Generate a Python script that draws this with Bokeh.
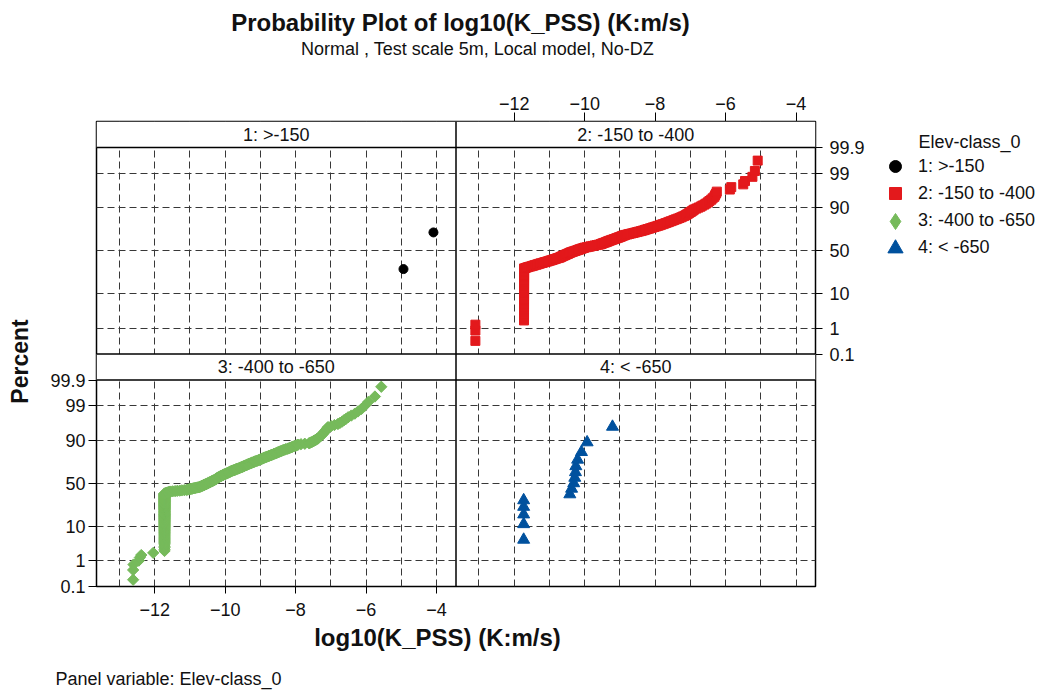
from statistics import NormalDist

from bokeh.embed import file_html
from bokeh.layouts import column, row
from bokeh.models import (BoxAnnotation, ColumnDataSource, FixedTicker, Grid, Label,
                          Legend, LegendItem, LinearAxis, Range1d, Span)
from bokeh.plotting import figure
from bokeh.resources import INLINE

# ---------------------------------------------------------------------------
# Data: log10(K_PSS) samples per elevation class (values at -11.72 / -11.73
# are the lower measurement limit and repeat)
# ---------------------------------------------------------------------------
class_labels = ["1: >-150", "2: -150 to -400", "3: -400 to -650", "4: < -650"]

elev1_k = [-4.94, -4.09]

elev2_k = ([-13.1, -13.1, -13.1] + [-11.72] * 57 + [
    -11.68, -11.64, -11.60, -11.55, -11.50, -11.46, -11.42, -11.37,
    -11.33, -11.29, -11.25, -11.20, -11.16, -11.12, -11.07,
    -11.03, -10.99, -10.95, -10.91, -10.87, -10.84, -10.80, -10.76, -10.72, -10.69,
    -10.67, -10.64, -10.62, -10.59, -10.56, -10.54, -10.51, -10.48, -10.46, -10.43, -10.41,
    -10.38, -10.34, -10.31, -10.27, -10.24, -10.20, -10.17, -10.14, -10.10, -10.07, -10.03, -10.00,
    -9.94, -9.88, -9.83, -9.77, -9.72, -9.66, -9.60, -9.55,
    -9.52, -9.49, -9.46, -9.42, -9.39, -9.36, -9.33, -9.30,
    -9.26, -9.23, -9.19, -9.16, -9.12, -9.09, -9.05,
    -9.02, -8.98, -8.95, -8.92, -8.88, -8.85,
    -8.79, -8.74, -8.68, -8.62, -8.57, -8.51, -8.46, -8.40,
    -8.35, -8.30, -8.26, -8.21, -8.16, -8.11, -8.07, -8.02,
    -7.97, -7.92, -7.87, -7.83, -7.78, -7.73, -7.69, -7.64, -7.60, -7.55,
    -7.50, -7.46, -7.41, -7.36, -7.31, -7.26, -7.22, -7.17,
    -7.13, -7.10, -7.06, -7.03, -6.99, -6.96, -6.92, -6.89,
    -6.83, -6.77, -6.71, -6.66, -6.60,
    -6.55, -6.50, -6.46, -6.41, -6.37, -6.32,
    -6.30, -6.27, -6.25,
    -5.88, -5.84, -5.50, -5.45, -5.24, -5.17, -5.09,
])

elev3_k = ([-12.61, -12.61, -12.60, -12.45, -12.42, -12.38, -12.04] + [-11.72] * 130 + [
    -11.70, -11.68, -11.66, -11.64, -11.62, -11.60, -11.57, -11.55,
    -11.49, -11.42, -11.36, -11.29, -11.23, -11.16, -11.10,
    -11.07, -11.04, -11.01, -10.98, -10.95, -10.92, -10.89, -10.86, -10.83, -10.80,
    -10.77, -10.74, -10.72, -10.70,
    -10.69, -10.67, -10.66, -10.64, -10.63, -10.61, -10.60, -10.59, -10.57, -10.56,
    -10.54, -10.53, -10.51, -10.50,
    -10.49, -10.47, -10.46, -10.45, -10.43, -10.42, -10.41, -10.39, -10.38, -10.37,
    -10.35, -10.34, -10.33, -10.31, -10.30,
    -10.29, -10.28, -10.27, -10.26, -10.25, -10.24, -10.23, -10.22, -10.21, -10.19,
    -10.18, -10.17, -10.16, -10.15, -10.14, -10.12, -10.11, -10.10,
    -10.08, -10.07, -10.05, -10.04, -10.02, -10.01, -9.99, -9.98, -9.96, -9.95,
    -9.93, -9.92, -9.90, -9.89, -9.87, -9.86, -9.85, -9.83, -9.82,
    -9.80, -9.78, -9.76, -9.74, -9.72, -9.70, -9.69, -9.67, -9.65, -9.63,
    -9.61, -9.59, -9.58, -9.56, -9.54,
    -9.52, -9.50, -9.49, -9.47, -9.45, -9.44, -9.42, -9.40, -9.38, -9.37, -9.35,
    -9.33, -9.31, -9.29, -9.27, -9.25, -9.23, -9.21, -9.19, -9.17, -9.15,
    -9.13, -9.10, -9.08, -9.06, -9.04, -9.02, -9.00, -8.98, -8.96, -8.94,
    -8.92, -8.90, -8.88,
    -8.86, -8.83, -8.81, -8.78, -8.76, -8.74, -8.71, -8.69, -8.66, -8.64,
    -8.62, -8.59, -8.57, -8.54, -8.52, -8.50, -8.47, -8.45, -8.42, -8.40,
    -8.37, -8.34, -8.31, -8.28, -8.24, -8.21, -8.18, -8.15, -8.12, -8.09,
    -8.06, -8.02, -7.99, -7.96, -7.93,
    -7.85, -7.74, -7.62,
    -7.59, -7.56, -7.53, -7.50, -7.48, -7.45, -7.42, -7.40, -7.37,
    -7.35, -7.34, -7.32, -7.30, -7.28, -7.26, -7.24, -7.22, -7.20, -7.19,
    -7.17, -7.15, -7.13, -7.11, -7.10, -7.08,
    -6.99, -6.90, -6.80,
    -6.74, -6.68, -6.63, -6.57, -6.51,
    -6.42, -6.32, -6.23,
    -6.13, -6.04, -5.94,
    -5.75, -5.57,
])

elev4_k = [-11.73, -11.73, -11.73, -11.73, -11.73,
           -10.42, -10.37, -10.31, -10.28, -10.26, -10.25, -10.20, -10.09, -9.93,
           -9.21]

x_tick_values = [-12, -10, -8, -6, -4]
x_grid_values = [-13, -12, -11, -10, -9, -8, -7, -6, -5, -4]
pct_tick_values = [0.1, 1, 10, 50, 90, 99, 99.9]
pct_tick_labels = ["0.1", "1", "10", "50", "90", "99", "99.9"]
pct_grid_values = [1, 10, 50, 90, 99]

# ---------------------------------------------------------------------------
# Page geometry (pixels, measured from the page's top-left corner)
# ---------------------------------------------------------------------------
W, H = 1040, 691
HEAD_H = 80                             # title band
FOOT_Y = 624                            # footer band starts here
LEFT_W = 45                             # y-title column
MAIN_R = 870                            # panel figure ends; legend column follows
FL, FR, FT, FB = 96, 815, 121, 586      # outer box of the 2x2 panel block
STRIP = 26                              # header strip height
XMIN, XMAX = -13.65, -3.45              # x extent of one panel
FONT = "Liberation Sans"
INK = "#111111"

nd = NormalDist()
ZMAX = nd.inv_cdf(0.999)
panel_w = (FR - FL) / 2
panel_h = (FB - FT) / 2 - STRIP
px_x = panel_w / (XMAX - XMIN)
px_z = panel_h / (2 * ZMAX)
span_x = (FR - FL) / px_x
span_z = (FB - FT) / px_z
top_end = ZMAX + STRIP / px_z
BAND_H = FOOT_Y - HEAD_H
BORDERS = dict(min_border_top=FT - HEAD_H, min_border_bottom=FOOT_Y - FB)


def blank_figure(x0, x1, y0, y1, **borders):
    """A figure whose data coordinates are page pixels (y grows downward)."""
    f = figure(width=x1 - x0, height=y1 - y0,
               x_range=Range1d(x0, x1),
               y_range=Range1d(borders.pop("ybot", y1), borders.pop("ytop", y0)),
               x_axis_location=None, y_axis_location=None,
               toolbar_location=None, output_backend="svg",
               min_border=0, outline_line_color=None, **borders)
    f.xgrid.grid_line_color = None
    f.ygrid.grid_line_color = None
    return f


def text(f, s, x, y, size, bold=False, align="center", angle=0.0):
    f.add_layout(Label(x=x, y=y, text=s, text_font=FONT, text_font_size=f"{size}px",
                       text_font_style="bold" if bold else "normal", text_color=INK,
                       text_align=align, text_baseline="middle", angle=angle))


# ---------------------------------------------------------------------------
# Panel figure
# ---------------------------------------------------------------------------
p = figure(width=MAIN_R - LEFT_W, height=BAND_H,
           x_range=Range1d(XMIN, XMIN + span_x),          # left column
           y_range=Range1d(top_end - span_z, top_end),    # top row
           x_axis_location=None, y_axis_location=None,
           toolbar_location=None, output_backend="svg",
           min_border_left=FL - LEFT_W, min_border_right=MAIN_R - FR, **BORDERS)
p.extra_x_ranges = {"right": Range1d(XMAX - span_x, XMAX)}
p.extra_y_ranges = {"bottom": Range1d(-ZMAX, -ZMAX + span_z)}
p.xgrid.grid_line_color = None
p.ygrid.grid_line_color = None
p.background_fill_color = "white"
p.border_fill_color = "white"
p.outline_line_color = "black"
p.outline_line_width = 1.5

# dashed reference grid
GRID_COLOR = "#383838"
for xname in ("default", "right"):
    p.add_layout(Grid(dimension=0, ticker=FixedTicker(ticks=x_grid_values),
                      x_range_name=xname, grid_line_color=GRID_COLOR,
                      grid_line_dash="7 4", grid_line_width=1))
z_grid = [nd.inv_cdf(v / 100) for v in pct_grid_values]
for yname in ("default", "bottom"):
    p.add_layout(Grid(dimension=1, ticker=FixedTicker(ticks=z_grid),
                      y_range_name=yname, grid_line_color=GRID_COLOR,
                      grid_line_dash="7 4", grid_line_width=1))


def plotting_positions(values):
    """Sorted data with normal scores of median ranks (i - 0.3)/(n + 0.4)."""
    s = sorted(values)
    n = len(s)
    return s, [nd.inv_cdf((i - 0.3) / (n + 0.4)) for i in range(1, n + 1)]


# values, marker, colour, size, angle, x range, y range, legend key marker, key box
panels = [
    (elev1_k, "circle", "black", 9, 0.0, "default", "default", "circle", 30),
    (elev2_k, "square", "#E3191C", 9, 0.0, "right", "default", "square", 30),
    (elev3_k, "square", "#76BA5B", 8, 0.785398, "default", "bottom", "diamond", 40),
    (elev4_k, "triangle", "#00519E", 12, 0.0, "right", "bottom", "triangle", 38),
]

sources = []
for vals, marker, color, size, ang, xname, yname, _, _ in panels:
    xs, zs = plotting_positions(vals)
    src = ColumnDataSource(dict(x=xs, z=zs))
    sources.append(src)
    p.scatter("x", "z", source=src, marker=marker, size=size, angle=ang,
              fill_color=color, line_color=color, line_width=1,
              x_range_name=xname, y_range_name=yname)

# header strips
p.add_layout(BoxAnnotation(bottom=ZMAX, fill_color="white", fill_alpha=1.0,
                           line_color=None))
p.add_layout(BoxAnnotation(bottom=ZMAX, top=ZMAX + STRIP / px_z, y_range_name="bottom",
                           fill_color="white", fill_alpha=1.0, line_color=None))

# panel borders
for loc, yname in ((ZMAX, "default"), (-ZMAX, "default"), (ZMAX, "bottom")):
    p.add_layout(Span(location=loc, dimension="width", y_range_name=yname,
                      line_color="black", line_width=1.5))
p.add_layout(Span(location=XMAX, dimension="height", line_color="black", line_width=1.5))

# header texts
for label, panel in zip(class_labels, panels):
    xname, yname = panel[5], panel[6]
    p.add_layout(Label(x=(XMIN + XMAX) / 2, y=ZMAX + STRIP / (2 * px_z),
                       x_range_name=xname, y_range_name=yname, text=label,
                       text_font=FONT, text_font_size="18px", text_color=INK,
                       text_align="center", text_baseline="middle"))

# axes
z_ticks = [nd.inv_cdf(v / 100) for v in pct_tick_values]
z_overrides = dict(zip(z_ticks, pct_tick_labels))


def style_axis(ax, tick_out, standoff):
    ax.axis_line_color = None
    ax.major_tick_line_color = "black"
    ax.major_tick_line_width = 1
    ax.major_tick_in = 0
    ax.major_tick_out = tick_out
    ax.minor_tick_line_color = None
    ax.major_label_text_font = FONT
    ax.major_label_text_font_size = "18px"
    ax.major_label_text_color = INK
    ax.major_label_standoff = standoff
    return ax


p.add_layout(style_axis(LinearAxis(x_range_name="right",
                                   ticker=FixedTicker(ticks=x_tick_values)), 9, 3), "above")
p.add_layout(style_axis(LinearAxis(x_range_name="default",
                                   ticker=FixedTicker(ticks=x_tick_values)), 7, 9), "below")
p.add_layout(style_axis(LinearAxis(y_range_name="default", ticker=FixedTicker(ticks=z_ticks),
                                   major_label_overrides=z_overrides), 7, 7), "right")
p.add_layout(style_axis(LinearAxis(y_range_name="bottom", ticker=FixedTicker(ticks=z_ticks),
                                   major_label_overrides=z_overrides), 8, 3), "left")

# ---------------------------------------------------------------------------
# Title band, y-title column, legend column, footer band
# ---------------------------------------------------------------------------
head = blank_figure(0, W, 0, HEAD_H)
text(head, "Probability Plot of log10(K_PSS) (K:m/s)", 460, 22, 24, bold=True)
text(head, "Normal , Test scale 5m, Local model, No-DZ", 477, 48, 18)

ycol = blank_figure(0, LEFT_W, HEAD_H, FOOT_Y, ytop=FT, ybot=FB, **BORDERS)
text(ycol, "Percent", 19, 361, 23, bold=True, angle=1.5707963)

side = blank_figure(MAIN_R, W, HEAD_H, FOOT_Y, ytop=FT, ybot=FB, **BORDERS)
KEY_X, LABEL_X, ROW0, ROW_STEP = 895, 918, 166, 27.3
for k, (label, src, panel) in enumerate(zip(class_labels, sources, panels)):
    color, key_marker, box = panel[2], panel[7], panel[8]
    # legend keys share the panel data; it falls outside this column's view
    key = side.scatter("x", "z", source=src, marker=key_marker,
                       fill_color=color, line_color=color)
    row_y = ROW0 + k * ROW_STEP
    side.add_layout(Legend(
        items=[LegendItem(label=label, renderers=[key])],
        location=(KEY_X - box / 2 - MAIN_R, FB - (row_y + box / 2)),
        glyph_width=box, glyph_height=box, label_height=box,
        label_standoff=int(round(LABEL_X - KEY_X - box / 2)), spacing=0, padding=0,
        margin=0, border_line_color=None, background_fill_alpha=0,
        label_text_font=FONT, label_text_font_size="18px", label_text_color=INK))
text(side, "Elev-class_0", 918, 141, 18, align="left")

foot = blank_figure(0, W, FOOT_Y, H)
text(foot, "log10(K_PSS) (K:m/s)", 437, 637, 24, bold=True)
text(foot, "Panel variable: Elev-class_0", 55, 678, 18, align="left")

page = column(head, row(ycol, p, side), foot)
open("out.html", "w").write(file_html(page, INLINE))
